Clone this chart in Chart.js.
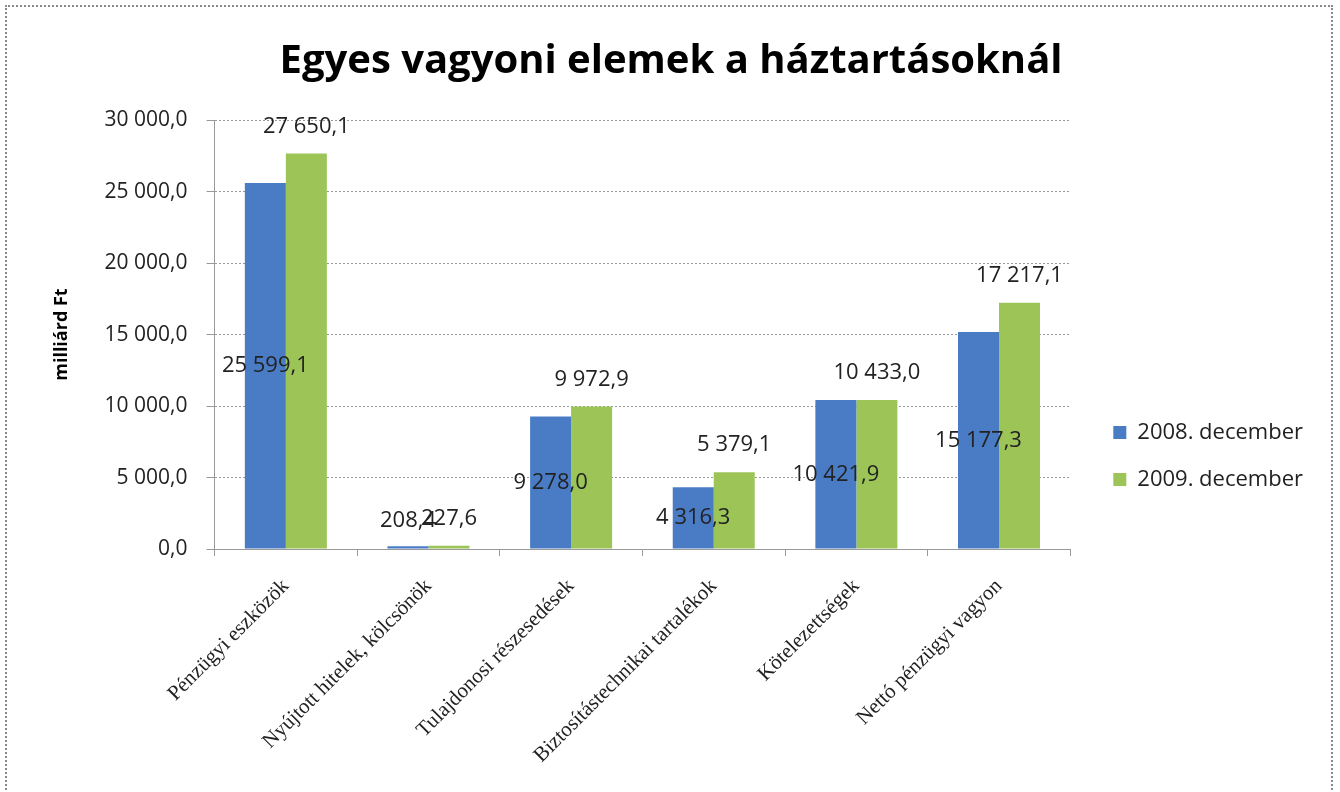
<!DOCTYPE html>
<html>
<head>
<meta charset="utf-8">
<script src="https://cdn.jsdelivr.net/npm/chart.js@4.4.1/dist/chart.umd.min.js"></script>
<style>
  html, body { margin: 0; padding: 0; background: #fff; }
  #wrap { position: relative; width: 1340px; height: 792px; overflow: hidden; }
  #frame { position: absolute; left: 5px; top: 5px; width: 1328px; height: 820px; border: 2px dotted #8a8a8a; box-sizing: border-box; }
  canvas { position: absolute; left: 0; top: 0; }
</style>
</head>
<body>
<div id="wrap">
  <div id="frame"></div>
  <canvas id="vagyonChart" width="1340" height="792"></canvas>
</div>
<script>
// Categories and series (milliárd Ft)
const categories = [
    "Pénzügyi eszközök",
    "Nyújtott hitelek, kölcsönök",
    "Tulajdonosi részesedések",
    "Biztosítástechnikai tartalékok",
    "Kötelezettségek",
    "Nettó pénzügyi vagyon"
];
const dec2008 = [25599.1, 208.4, 9278.0, 4316.3, 10421.9, 15177.3];
const dec2009 = [27650.1, 227.6, 9972.9, 5379.1, 10433.0, 17217.1];
const seriesNames = ["2008. december", "2009. december"];

const SANS = "'Open Sans', 'Noto Sans', sans-serif";

// Hungarian style number: 27 650,1
const huNumber = (v) => {
    const parts = Number(v).toFixed(1).split('.');
    const intPart = parts[0].replace(/\B(?=(\d{3})+(?!\d))/g, ' ');
    return intPart + ',' + parts[1];
};

// Value labels: 2008 in the middle of the bar, 2009 above the bar
const valueLabels = {
    id: 'valueLabels',
    afterDatasetsDraw(chart) {
        const ctx = chart.ctx;
        ctx.save();
        ctx.font = '22px ' + SANS;
        ctx.fillStyle = '#222';
        ctx.textAlign = 'center';
        ctx.textBaseline = 'middle';
        chart.data.datasets.forEach((ds, i) => {
            const meta = chart.getDatasetMeta(i);
            meta.data.forEach((bar, j) => {
                let y;
                if (i === 0) {
                    y = Math.min((bar.y + bar.base) / 2, bar.base - 28);
                } else {
                    y = bar.y - 27;
                }
                ctx.fillText(huNumber(ds.data[j]), bar.x, y);
            });
        });
        ctx.restore();
    }
};

// Nudge the legend to where Excel put it (lower and a bit to the right)
const legendNudge = {
    id: 'legendNudge',
    afterLayout(chart) {
        const lg = chart.legend;
        lg.left += 18; lg.right += 18;
        lg.top += 63; lg.bottom += 63;
    }
};

const ctx = document.getElementById('vagyonChart').getContext('2d');
new Chart(ctx, {
    type: 'bar',
    data: {
        labels: categories,
        datasets: [{
            label: seriesNames[0],
            data: dec2008,
            backgroundColor: '#4a7cc6',
            borderWidth: 0
        }, {
            label: seriesNames[1],
            data: dec2009,
            backgroundColor: '#9cc457',
            borderWidth: 0
        }]
    },
    options: {
        responsive: false,
        animation: false,
        devicePixelRatio: 1,
        layout: { padding: { left: 47, right: 45, top: 0, bottom: 6 } },
        datasets: {
            bar: { categoryPercentage: 0.575, barPercentage: 1 }
        },
        plugins: {
            title: {
                display: true,
                text: 'Egyes vagyoni elemek a háztartásoknál',
                color: '#000',
                font: { family: SANS, size: 40, weight: 'bold' },
                padding: { top: 38, bottom: 34 }
            },
            legend: {
                position: 'right',
                labels: {
                    boxWidth: 13,
                    boxHeight: 13,
                    padding: 25,
                    color: '#222',
                    font: { family: SANS, size: 22 }
                }
            },
            tooltip: { enabled: false }
        },
        scales: {
            x: {
                grid: {
                    drawOnChartArea: false,
                    drawTicks: true,
                    tickLength: 7,
                    color: '#999'
                },
                border: { color: '#999', dash: [2, 2] },
                ticks: {
                    minRotation: 45,
                    maxRotation: 45,
                    color: '#222',
                    padding: 18,
                    font: { family: "'Liberation Serif', serif", size: 21 }
                }
            },
            y: {
                min: 0,
                max: 30000,
                ticks: {
                    stepSize: 5000,
                    color: '#222',
                    padding: 19,
                    font: { family: SANS, size: 21 },
                    callback: (v) => huNumber(v)
                },
                grid: {
                    color: '#999',
                    tickLength: 8,
                    drawTicks: true
                },
                border: { color: '#999', dash: [2, 2] },
                title: {
                    display: true,
                    text: 'milliárd Ft',
                    color: '#000',
                    font: { family: SANS, size: 18, weight: 'bold' },
                    padding: { bottom: 13 }
                }
            }
        }
    },
    plugins: [valueLabels, legendNudge]
});
</script>
</body>
</html>
